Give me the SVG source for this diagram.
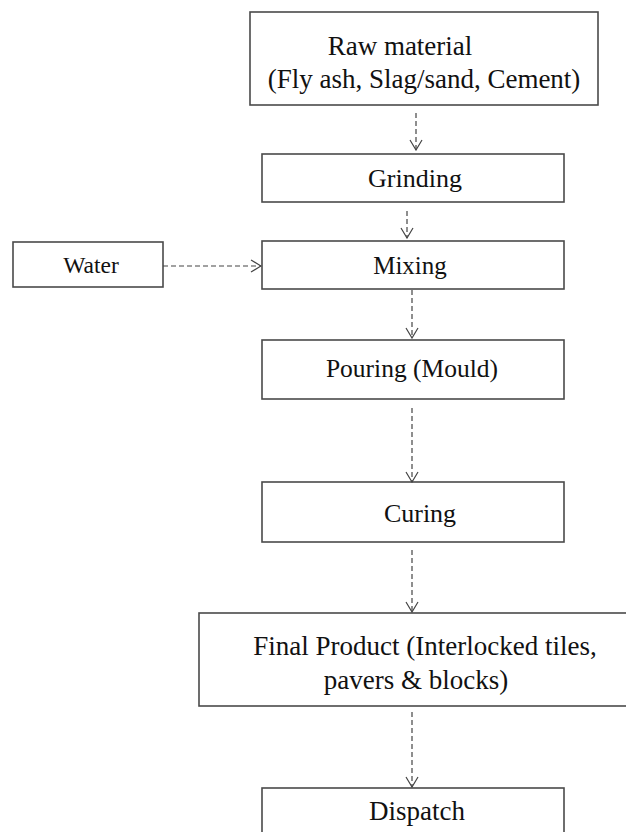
<svg xmlns="http://www.w3.org/2000/svg" width="626" height="832" viewBox="0 0 626 832">
  <defs>
    <marker id="arr" viewBox="0 0 12 14" refX="11" refY="7" markerWidth="12" markerHeight="14" markerUnits="userSpaceOnUse" orient="auto">
      <path d="M1,1 L11,7 L1,13" fill="none" stroke="#444" stroke-width="1.2"/>
    </marker>
  </defs>
  <style>
    .box { fill: #fff; stroke: #4a4a4a; stroke-width: 1.6; }
    .t { font-family: "Liberation Serif", "Times New Roman", serif; font-size: 26px; fill: #111; text-anchor: middle; }
    .c { fill: none; stroke: #444; stroke-width: 1.2; stroke-dasharray: 5 3; marker-end: url(#arr); }
  </style>
  <rect width="626" height="832" fill="#fff"/>

  <g id="raw">
    <rect class="box" x="250" y="12" width="348" height="93"/>
    <text class="t" x="400" y="55" style="font-size:27px">Raw material</text>
    <text class="t" x="424" y="88" style="font-size:27px">(Fly ash, Slag/sand, Cement)</text>
  </g>
  <g id="grinding">
    <rect class="box" x="262" y="154" width="302" height="48"/>
    <text class="t" x="415" y="187">Grinding</text>
  </g>
  <g id="water">
    <rect class="box" x="13" y="242" width="150" height="45"/>
    <text class="t" x="91" y="273" style="font-size:23.5px">Water</text>
  </g>
  <g id="mixing">
    <rect class="box" x="262" y="241" width="302" height="48"/>
    <text class="t" x="410" y="274" style="font-size:25px">Mixing</text>
  </g>
  <g id="pouring">
    <rect class="box" x="262" y="340" width="302" height="59"/>
    <text class="t" x="412" y="377" style="font-size:25.5px">Pouring (Mould)</text>
  </g>
  <g id="curing">
    <rect class="box" x="262" y="482" width="302" height="60"/>
    <text class="t" x="420" y="522">Curing</text>
  </g>
  <g id="final">
    <rect class="box" x="199" y="613" width="432" height="93"/>
    <text class="t" x="425" y="655" style="font-size:27px">Final Product (Interlocked tiles,</text>
    <text class="t" x="416" y="689" style="font-size:27px">pavers &amp; blocks)</text>
  </g>
  <g id="dispatch">
    <rect class="box" x="262" y="788" width="302" height="60"/>
    <text class="t" x="417" y="820" style="font-size:27px">Dispatch</text>
  </g>

  <g id="connectors">
    <line class="c" x1="416" y1="113" x2="416" y2="150"/>
    <line class="c" x1="407" y1="211" x2="407" y2="238"/>
    <line class="c" x1="163" y1="266" x2="261" y2="266"/>
    <line class="c" x1="412" y1="290" x2="412" y2="338"/>
    <line class="c" x1="412" y1="408" x2="412" y2="482"/>
    <line class="c" x1="412" y1="550" x2="412" y2="612"/>
    <line class="c" x1="412" y1="712" x2="412" y2="787"/>
  </g>
</svg>
